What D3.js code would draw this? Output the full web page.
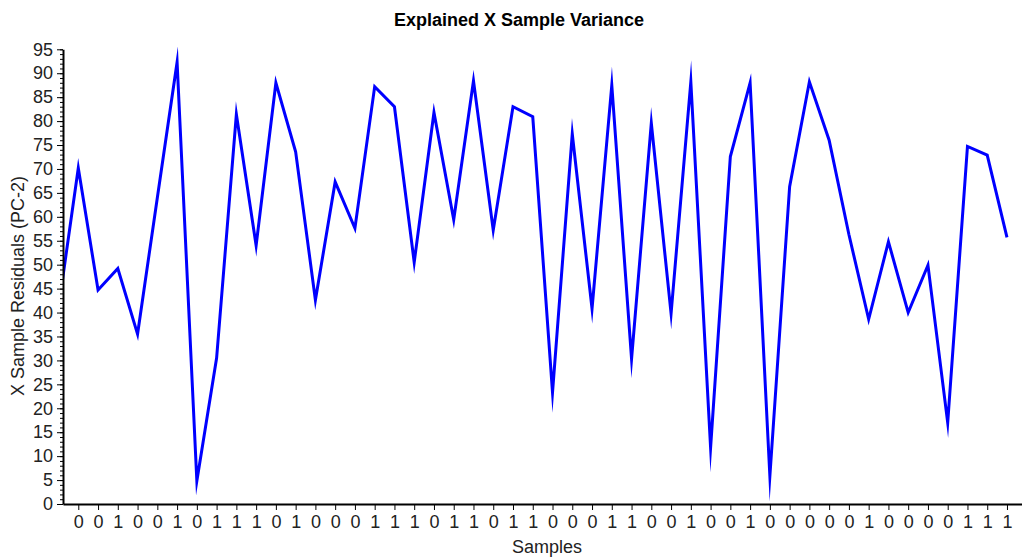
<!DOCTYPE html>
<html>
<head>
<meta charset="utf-8">
<script src="https://cdn.jsdelivr.net/npm/d3@7/dist/d3.min.js"></script>
<style>
  html, body { margin: 0; padding: 0; background: #fff; }
  svg { display: block; font-family: "Liberation Sans", Arial, sans-serif; }
</style>
</head>
<body>
<svg id="chart" width="1022" height="557"></svg>
<script>
// Sample class labels shown under each tick (samples 1..48)
const sampleLabels = [
  "0","0","1","0","0","1","0","1","1","1","0","1",
  "0","0","0","1","1","1","0","1","1","0","1","1",
  "0","0","0","1","1","0","0","1","0","0","1","0",
  "0","0","0","0","1","0","0","0","0","1","1","1"
];
// Sample indices; index 0 is the leading sample that runs off the left edge
const sampleIndex = d3.range(0, 49);
// X sample residuals (PC-2) for each sample index
const residuals = [
  41.0,
  70.2, 44.7, 49.2, 35.5, 64.0, 92.3, 4.8, 30.5, 81.4, 54.0, 88.0, 73.6,
  42.6, 67.3, 57.6, 87.2, 83.0, 50.5, 81.8, 59.4, 88.4, 57.2, 83.0, 80.9,
  23.3, 77.3, 40.8, 87.5, 30.3, 79.6, 39.8, 88.2, 11.8, 72.6, 88.0, 5.8,
  66.3, 88.2, 76.0, 56.3, 38.6, 54.8, 40.0, 49.9, 17.0, 74.7, 72.9, 55.7
];
const yTickValues = d3.range(0, 96, 5);

const svg = d3.select("#chart");
const plotLeft = 63, plotRight = 1022, plotBottom = 504;

const x = d3.scaleLinear().domain([0.226, 48.76]).range([plotLeft, plotRight]);
const y = d3.scaleLinear().domain([0, 95]).range([plotBottom, 49.3]);

// Title
svg.append("text")
  .attr("x", 519).attr("y", 26)
  .attr("text-anchor", "middle")
  .attr("font-size", 18).attr("font-weight", "bold")
  .attr("fill", "#000")
  .text("Explained X Sample Variance");

// Clip region for the plotted line
svg.append("defs").append("clipPath").attr("id", "plot-clip")
  .append("rect")
  .attr("x", plotLeft).attr("y", 0)
  .attr("width", plotRight - plotLeft).attr("height", plotBottom);

// Residual line
const line = d3.line()
  .x((d, i) => x(sampleIndex[i]))
  .y(d => y(d));

svg.append("path")
  .datum(residuals)
  .attr("clip-path", "url(#plot-clip)")
  .attr("fill", "none")
  .attr("stroke", "#0000ff")
  .attr("stroke-width", 3)
  .attr("stroke-linejoin", "miter")
  .attr("stroke-miterlimit", 20)
  .attr("d", line);

// Y axis: minor ticks every unit, major ticks every 5
const yMinor = svg.append("g").attr("transform", `translate(${plotLeft},0)`)
  .call(d3.axisLeft(y).tickValues(d3.range(0, 96, 1)).tickSize(3).tickFormat(""));
yMinor.select(".domain").remove();
yMinor.selectAll("line").attr("stroke", "#000");

const yAxis = svg.append("g").attr("transform", `translate(${plotLeft},0)`)
  .call(d3.axisLeft(y).tickValues(yTickValues).tickSize(6).tickSizeOuter(0).tickPadding(4));
yAxis.select(".domain").attr("stroke", "#000").attr("stroke-width", 2);
yAxis.selectAll(".tick line").attr("stroke", "#000");
yAxis.selectAll(".tick text")
  .attr("font-size", 18).attr("fill", "#222")
  .attr("font-family", "Liberation Sans, Arial, sans-serif");

// X axis with the class label of each sample
const xAxis = svg.append("g").attr("transform", `translate(0,${plotBottom})`)
  .call(d3.axisBottom(x)
    .tickValues(d3.range(1, 49))
    .tickFormat(d => sampleLabels[d - 1])
    .tickSize(6).tickSizeOuter(0).tickPadding(5));
xAxis.select(".domain").attr("stroke", "#000").attr("stroke-width", 2);
xAxis.selectAll(".tick line").attr("stroke", "#000");
xAxis.selectAll(".tick text")
  .attr("font-size", 18).attr("fill", "#222")
  .attr("font-family", "Liberation Sans, Arial, sans-serif");

// Axis titles
svg.append("text")
  .attr("x", 547).attr("y", 553)
  .attr("text-anchor", "middle")
  .attr("font-size", 18).attr("fill", "#222")
  .text("Samples");

svg.append("text")
  .attr("transform", "translate(24,286) rotate(-90)")
  .attr("text-anchor", "middle")
  .attr("font-size", 18).attr("fill", "#222")
  .text("X Sample Residuals (PC-2)");
</script>
</body>
</html>
